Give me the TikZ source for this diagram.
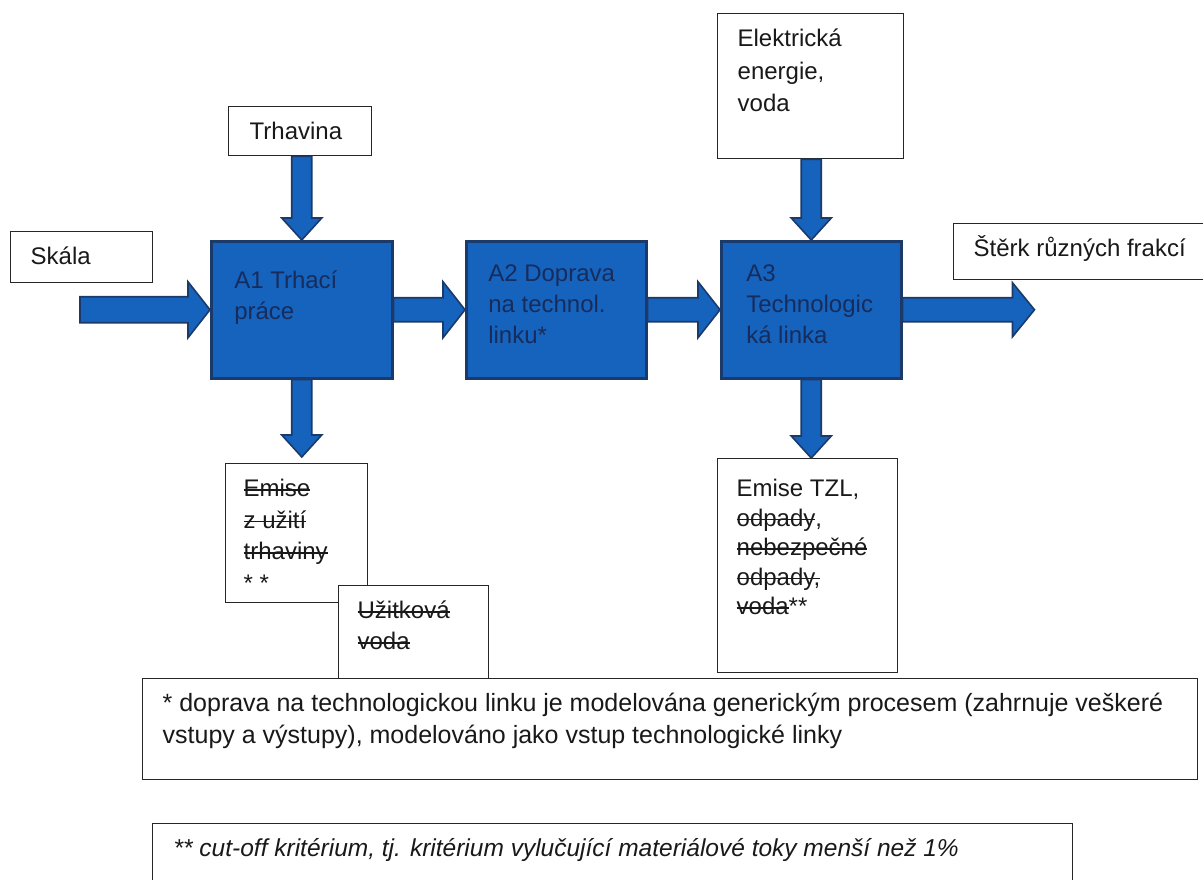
\documentclass[tikz,border=0pt]{standalone}
\usepackage{fontspec}
\setmainfont{Liberation Sans}
\usetikzlibrary{positioning,calc}

\definecolor{procblue}{RGB}{22,99,189}
\definecolor{procedge}{RGB}{28,58,105}
\definecolor{proctext}{RGB}{22,44,92}

\newcommand{\strk}[1]{\leavevmode\sbox0{#1}\rlap{\usebox0}\rule[0.25em]{\wd0}{1.3pt}}

\newcommand{\flowarrow}[4]{%
  \path (#1) coordinate (fa s) (#2) coordinate (fa e);
  \path ($(fa e)!22pt!(fa s)$) coordinate (fa h);
  \draw[flow]
    ($(fa s)!#3!90:(fa e)$) -- ($(fa h)!#3!90:(fa e)$) --
    ($(fa h)!#4!90:(fa e)$) -- (fa e) --
    ($(fa h)!#4!-90:(fa e)$) -- ($(fa h)!#3!-90:(fa e)$) --
    ($(fa s)!#3!-90:(fa e)$) -- cycle;
}

\begin{document}
\begin{tikzpicture}[x=1pt, y=-1pt, node distance=71.5pt,
    box/.style={draw=black!85, line width=1.3pt, fill=white, text=black!90,
                anchor=north west, align=flush left, text height=17pt,
                inner ysep=16pt, font=\fontsize{24}{31}\selectfont},
    proc/.style={box, draw=procedge, line width=2.5pt, fill=procblue,
                 text=proctext, inner ysep=23pt},
    note/.style={box, font=\fontsize{25}{32}\selectfont},
    flow/.style={draw=procedge, line width=1.6pt, fill=procblue,
                 line join=miter}]
    \useasboundingbox (0,0) rectangle (1203,879);

    \node (skala) [box, inner xsep=20pt, text width=102pt, text depth=2pt]
          at (10,231) {Skála};
    \node (trhavina) [box, inner xsep=21pt, text width=101pt, text depth=0pt]
          at (228,106) {Trhavina};
    \node (elek) [box, inner xsep=20pt, text width=146pt, text depth=96pt,
                  font=\fontsize{24}{32.5}\selectfont]
          at (717,13) {Elektrická\\energie,\\voda};
    \node (sterk) [box, inner xsep=20pt, text width=230pt, text depth=7pt]
          at (953,223) {Štěrk různých frakcí};

    \node (a1) [proc, inner xsep=23pt, text width=135pt, inner ysep=30pt,
                text depth=60pt]
          at (210,240) {A1 Trhací\\práce};
    \node (a2) [proc, inner xsep=22pt, text width=136pt, text depth=74pt]
               [right=of a1]
          {A2 Doprava\\na technol.\\linku*};
    \node (a3) [proc, inner xsep=25pt, text width=130pt, text depth=74pt]
               [right=72.5pt of a2]
          {A3\\Technologic\\ká linka};

    \node (blastemis) [box, inner xsep=18pt, text width=106pt, text depth=90pt,
                       font=\fontsize{24}{31.5}\selectfont]
          at (225,463) {\strk{Emise}\\\strk{z užití}\\\strk{trhaviny}\\{}* *};
    \node (water) [box, inner xsep=19pt, text width=112pt, text depth=44pt]
          at (338,585) {\strk{Užitková}\\\strk{voda}};
    \node (lineemis) [box, inner xsep=19pt, text width=142pt, inner ysep=21pt,
                      text depth=155pt, font=\fontsize{24}{29.5}\selectfont]
          at (717,458) {Emise TZL,\\\strk{odpady},\\\strk{nebezpečné}\\
                        \strk{odpady,}\\\strk{voda}**};

    \node (note1) [note, inner xsep=20pt, text width=1015pt, text depth=52pt]
          at (142,678) {* doprava na technologickou linku je modelována generickým procesem (zahrnuje veškeré\\
                        vstupy a výstupy), modelováno jako vstup technologické linky};
    \node (note2) [note, inner xsep=21pt, text width=878pt, text depth=33pt,
                   font=\fontsize{24.5}{32}\selectfont]
          at (152,823) {\itshape ** cut-off kritérium, tj. kritérium vylučující materiálové toky menší než 1\%};

    \coordinate (skala in) at ($(a1.west)+(-130,0)$);
    \coordinate (gravel out) at ($(a3.east)+(132,0)$);

    \flowarrow{skala in}{a1.west}{13pt}{28pt}
    \flowarrow{a1.east}{a2.west}{12pt}{28pt}
    \flowarrow{a2.east}{a3.west}{12pt}{28pt}
    \flowarrow{a3.east}{gravel out}{12pt}{27pt}
    \flowarrow{trhavina.south -| a1.north}{a1.north}{10pt}{20pt}
    \flowarrow{elek.south -| a3.north}{a3.north}{10pt}{20pt}
    \flowarrow{a1.south}{$(a1.south |- blastemis.north)+(0,-6)$}{10pt}{20pt}
    \flowarrow{a3.south}{a3.south |- lineemis.north}{10pt}{20pt}
\end{tikzpicture}
\end{document}
